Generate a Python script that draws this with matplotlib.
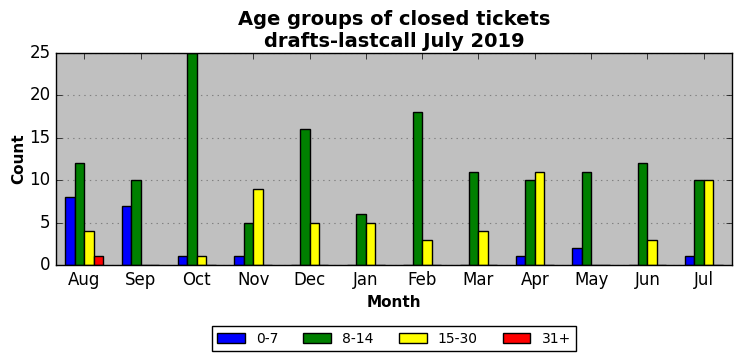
import matplotlib
matplotlib.use('Agg')
import matplotlib.pyplot as plt
import numpy as np

plt.style.use('classic')

months = ['Aug', 'Sep', 'Oct', 'Nov', 'Dec', 'Jan', 'Feb', 'Mar', 'Apr', 'May', 'Jun', 'Jul']
age_0_7 = [8, 7, 1, 1, 0, 0, 0, 0, 1, 2, 0, 1]
age_8_14 = [12, 10, 25, 5, 16, 6, 18, 11, 10, 11, 12, 10]
age_15_30 = [4, 0, 1, 9, 5, 5, 3, 4, 11, 0, 3, 10]
age_31 = [1, 0, 0, 0, 0, 0, 0, 0, 0, 0, 0, 0]

series = [('0-7', age_0_7, 'blue'),
          ('8-14', age_8_14, 'green'),
          ('15-30', age_15_30, 'yellow'),
          ('31+', age_31, 'red')]

fig = plt.figure(figsize=(7.42, 3.61), dpi=100)
ax = fig.add_axes([0.0755, 0.266, 0.911, 0.587])
ax.set_facecolor('#c0c0c0')

x = np.arange(len(months))
w = 1.0 / 6
for i, (name, vals, col) in enumerate(series):
    ax.bar(x + (i - 1.5) * w, vals, w, color=col, edgecolor='black',
           linewidth=1, label=name, align='center')

ax.set_xlim(-0.5, len(months) - 0.5)
ax.set_ylim(0, 25)
ax.set_xticks(x)
ax.set_xticklabels(months, fontsize=12)
ax.tick_params(axis='y', labelsize=12)
ax.yaxis.grid(True, linestyle=':', color='gray', linewidth=0.8)
ax.set_axisbelow(True)

ax.set_xlabel('Month', fontsize=11, fontweight='bold')
ax.set_ylabel('Count', fontsize=11, fontweight='bold', labelpad=2)
ax.set_title('Age groups of closed tickets\ndrafts-lastcall July 2019',
             fontsize=14, fontweight='bold', y=0.995)

ax.legend(loc='upper center', bbox_to_anchor=(0.5, -0.257), ncol=4,
          fontsize=10, frameon=True, fancybox=False, columnspacing=1.8)

fig.savefig('out.png', dpi=100)
